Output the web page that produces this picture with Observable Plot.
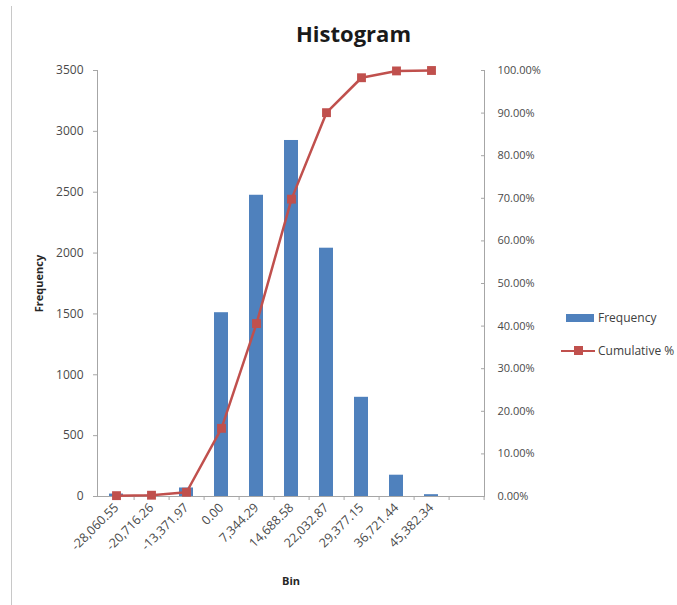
<!DOCTYPE html>
<html>
<head>
<meta charset="utf-8">
<script src="https://cdn.jsdelivr.net/npm/d3@7"></script>
<script src="https://cdn.jsdelivr.net/npm/@observablehq/plot@0.6"></script>
<style>
  html, body { margin: 0; padding: 0; background: #fff; overflow: hidden; }
  #wrap { position: relative; width: 677px; height: 605px; overflow: hidden; font-family: "Open Sans", sans-serif; color: #404040; }
  #frame { position: absolute; left: 11px; top: 6px; bottom: 0; border-left: 1px solid #c8c8c8; }
  #title { height: 55px; box-sizing: border-box; padding-top: 19px; padding-left: 30px; text-align: center; font-weight: bold; font-size: 22px; color: #1a1a1a; line-height: 28px; }
  .leg { position: absolute; left: 561px; font-size: 12px; color: #404040; white-space: nowrap; display: flex; align-items: center; }
  .leg .sw { width: 34px; height: 12px; position: relative; margin-right: 3px; }
</style>
</head>
<body>
<div id="wrap">
  <div id="frame"></div>
  <div id="title">Histogram</div>
  <div id="chart"></div>
  <div class="leg" style="top:309px"><div class="sw"><div style="position:absolute;left:5px;top:2px;width:28px;height:8px;background:#4F81BD"></div></div>Frequency</div>
  <div class="leg" style="top:342px"><div class="sw"><div style="position:absolute;left:0;top:5px;width:34px;height:2.5px;background:#C0504D"></div><div style="position:absolute;left:13px;top:1px;width:9px;height:9px;background:#C0504D"></div></div>Cumulative %</div>
</div>
<script>
// Categories (bins) of the histogram; the last slot ("More") has no label
const bins = ["-28,060.55", "-20,716.26", "-13,371.97", "0.00", "7,344.29", "14,688.58", "22,032.87", "29,377.15", "36,721.44", "45,382.34", "More"];
// Frequency per bin
const frequency = [20, 10, 70, 1510, 2475, 2925, 2040, 815, 175, 15, 0];
// Cumulative % per bin (line series, drawn for the first 10 bins)
const cumulativePct = [0.2, 0.3, 1.0, 16.0, 40.6, 69.8, 90.1, 98.3, 99.9, 100.0];
// Axis ticks
const freqTicks = [0, 500, 1000, 1500, 2000, 2500, 3000, 3500];
const pctTicks = [0, 10, 20, 30, 40, 50, 60, 70, 80, 90, 100];

const freqMax = 3500;
const pctToFreq = p => p / 100 * freqMax;

const barData = bins.map((b, i) => ({bin: b, freq: frequency[i]}));
const lineData = cumulativePct.map((p, i) => ({bin: bins[i], pct: p}));

const axisColor = "#a6a6a6";
const labelColor = "#4a4a4a";

const chart = Plot.plot({
  width: 677,
  height: 550,
  marginTop: 15,
  marginBottom: 109,
  marginLeft: 97,
  marginRight: 193,
  style: {fontFamily: "'Open Sans', sans-serif", fontSize: "11px", color: labelColor, background: "transparent"},
  x: {domain: bins, paddingInner: 0.6, paddingOuter: 0.3, label: null},
  y: {domain: [0, freqMax], label: null},
  marks: [
    Plot.barY(barData, {x: "bin", y: "freq", fill: "#4F81BD"}),
    Plot.frame({anchor: "left", stroke: axisColor}),
    Plot.frame({anchor: "right", stroke: axisColor}),
    Plot.ruleY([0], {stroke: axisColor}),
    Plot.axisY({ticks: freqTicks, anchor: "left", tickSize: 4, tickPadding: 10, stroke: axisColor, fill: labelColor,
      fontSize: 12, tickFormat: d => String(d),
      label: "Frequency", labelAnchor: "center", labelOffset: 62, labelArrow: "none"}),
    Plot.axisY({ticks: pctTicks.map(pctToFreq), anchor: "right", tickSize: 0, tickPadding: 13, fill: labelColor,
      fontSize: 11, tickFormat: d => (d / freqMax * 100).toFixed(2) + "%", label: null}),
    Plot.axisY({ticks: pctTicks.map(pctToFreq), anchor: "right", tickSize: 4, dx: -4, stroke: axisColor, tickFormat: () => "", label: null}),
    Plot.axisX({ticks: bins, anchor: "bottom", tickSize: 4, dx: 17.6, stroke: axisColor, tickFormat: () => "", label: null}),
    Plot.axisX({ticks: bins, anchor: "bottom", tickSize: 0, tickPadding: 9, tickRotate: -45, fill: labelColor,
      fontSize: 12.5, tickFormat: d => d === "More" ? "" : d,
      label: "Bin", labelAnchor: "center", labelOffset: 88, labelArrow: "none"}),
    Plot.line(lineData, {x: "bin", y: d => pctToFreq(d.pct), stroke: "#C0504D", strokeWidth: 2.5}),
    Plot.dot(lineData, {x: "bin", y: d => pctToFreq(d.pct), symbol: "square", fill: "#C0504D", r: 5})
  ]
});
document.getElementById("chart").appendChild(chart);
d3.select(chart).selectAll("[aria-label='y-axis label'] text, [aria-label='x-axis label'] text")
  .style("font-weight", "bold").style("font-size", "11px").style("fill", "#262626");
</script>
</body>
</html>
